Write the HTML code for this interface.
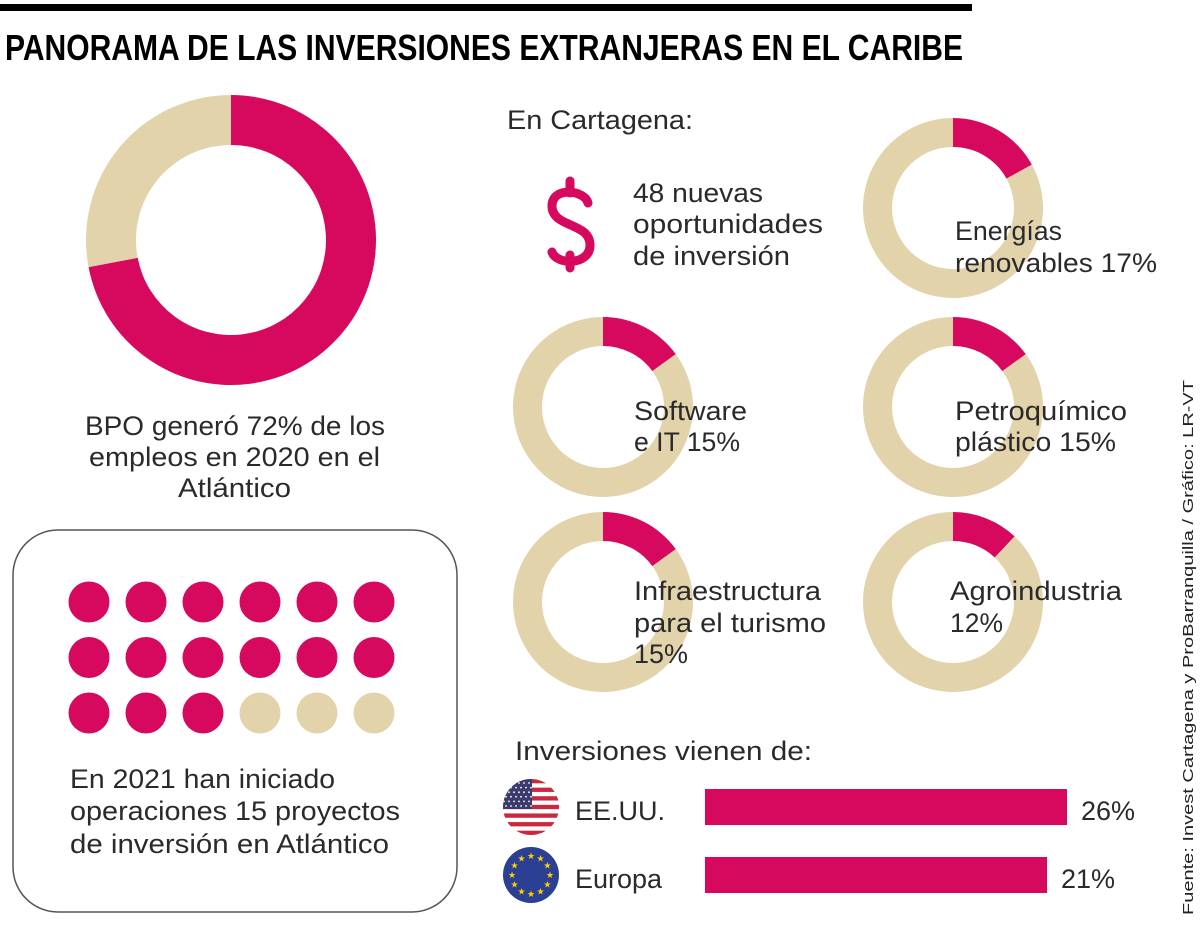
<!DOCTYPE html>
<html><head><meta charset="utf-8"><style>
body{margin:0;background:#fff;}
svg{display:block;font-family:"Liberation Sans",sans-serif;}
.t{font-size:27px;fill:#2a2a2a;}
</style></head><body>
<svg id="c" width="1200" height="927" viewBox="0 0 1200 927">
<rect x="0" y="4" width="972" height="7" fill="#000"/>
<text x="5" y="60" font-size="36" font-weight="bold" textLength="958" lengthAdjust="spacingAndGlyphs" fill="#000">PANORAMA DE LAS INVERSIONES EXTRANJERAS EN EL CARIBE</text>
<g id="bigDonut"></g>
<g>
<text class="t" x="85" y="435" textLength="300" lengthAdjust="spacingAndGlyphs">BPO generó 72% de los</text>
<text class="t" x="89" y="466" textLength="291" lengthAdjust="spacingAndGlyphs">empleos en 2020 en el</text>
<text class="t" x="178" y="497" textLength="113" lengthAdjust="spacingAndGlyphs">Atlántico</text>
</g>
<rect x="13" y="530" width="444" height="382" rx="45" fill="none" stroke="#555" stroke-width="1.5"/>
<g id="dots"></g>
<g>
<text class="t" x="70" y="788" textLength="265" lengthAdjust="spacingAndGlyphs">En 2021 han iniciado</text>
<text class="t" x="70" y="820" textLength="330" lengthAdjust="spacingAndGlyphs">operaciones 15 proyectos</text>
<text class="t" x="70" y="853" textLength="319" lengthAdjust="spacingAndGlyphs">de inversión en Atlántico</text>
</g>
<text class="t" x="507" y="129" textLength="186" lengthAdjust="spacingAndGlyphs" fill="#000">En Cartagena:</text>
<path d="M570 181 L570 193 M588 203 C585 190 552 186 552 206 C552 228 590 222 590 245 C590 266 556 265 552 252 M570 255 L570 268" fill="none" stroke="#d6095f" stroke-width="9" stroke-linecap="round"/>
<g>
<text class="t" x="633" y="202" textLength="130" lengthAdjust="spacingAndGlyphs">48 nuevas</text>
<text class="t" x="633" y="233" textLength="190" lengthAdjust="spacingAndGlyphs">oportunidades</text>
<text class="t" x="633" y="265" textLength="157" lengthAdjust="spacingAndGlyphs">de inversión</text>
</g>
<g id="smallDonuts"></g>
<g>
<text class="t" x="955" y="240" textLength="107" lengthAdjust="spacingAndGlyphs">Energías</text>
<text class="t" x="955" y="272" textLength="202" lengthAdjust="spacingAndGlyphs">renovables 17%</text>
<text class="t" x="634" y="420" textLength="113" lengthAdjust="spacingAndGlyphs">Software</text>
<text class="t" x="634" y="451" textLength="106" lengthAdjust="spacingAndGlyphs">e IT 15%</text>
<text class="t" x="955" y="420" textLength="172" lengthAdjust="spacingAndGlyphs">Petroquímico</text>
<text class="t" x="955" y="451" textLength="161" lengthAdjust="spacingAndGlyphs">plástico 15%</text>
<text class="t" x="634" y="600" textLength="187" lengthAdjust="spacingAndGlyphs">Infraestructura</text>
<text class="t" x="634" y="632" textLength="192" lengthAdjust="spacingAndGlyphs">para el turismo</text>
<text class="t" x="634" y="663" textLength="54" lengthAdjust="spacingAndGlyphs">15%</text>
<text class="t" x="950" y="600" textLength="172" lengthAdjust="spacingAndGlyphs">Agroindustria</text>
<text class="t" x="950" y="632" textLength="53" lengthAdjust="spacingAndGlyphs">12%</text>
</g>
<text class="t" x="515" y="760" textLength="297" lengthAdjust="spacingAndGlyphs" fill="#000">Inversiones vienen de:</text>
<defs>
<clipPath id="usc"><circle cx="531" cy="807" r="28"/></clipPath>
</defs>
<g clip-path="url(#usc)">
<rect x="500" y="779" width="62" height="56" fill="#fff"/>
<g id="stripes"></g>
<rect x="500" y="779" width="32" height="30" fill="#3c3b6e"/>
<g id="usstars"></g>
</g>
<g>
<circle cx="531" cy="875" r="28" fill="#2b3f93"/>
<g id="eustars"></g>
</g>
<g id="bars"></g>
<text x="1193" y="915" font-size="15" fill="#222" transform="rotate(-90 1193 915)" textLength="535" lengthAdjust="spacingAndGlyphs">Fuente: Invest Cartagena y ProBarranquilla / Gráfico: LR-VT</text>
</svg>
<script>
const PINK="#d6095f", BEIGE="#e3d3ab";
const bpoShare=[72];
const sectorNames=["Energías renovables","Software e IT","Petroquímico plástico","Infraestructura para el turismo","Agroindustria"];
const sectorShares=[17,15,15,15,12];
const projectsStarted=[15];
const projectsTotal=[18];
const originNames=["EE.UU.","Europa"];
const originShares=[26,21];
const originLabels=["26%","21%"];

const NS="http://www.w3.org/2000/svg";
function mk(tag,attrs,parent){const e=document.createElementNS(NS,tag);for(const k in attrs)e.setAttribute(k,attrs[k]);parent.appendChild(e);return e;}
function arc(cx,cy,r0,r1,a0,a1){
  const p=(r,a)=>[cx+r*Math.sin(a*2*Math.PI),cy-r*Math.cos(a*2*Math.PI)];
  const large=(a1-a0)>0.5?1:0;
  const [x0,y0]=p(r1,a0),[x1,y1]=p(r1,a1),[x2,y2]=p(r0,a1),[x3,y3]=p(r0,a0);
  return `M${x0} ${y0}A${r1} ${r1} 0 ${large} 1 ${x1} ${y1}L${x2} ${y2}A${r0} ${r0} 0 ${large} 0 ${x3} ${y3}Z`;
}
function donut(g,cx,cy,r0,r1,pct,name){
  const f=pct/100;
  const a=mk('path',{d:arc(cx,cy,r0,r1,0,f),fill:PINK},g);
  
  
  const b=mk('path',{d:arc(cx,cy,r0,r1,f,0.99999),fill:BEIGE},g);
  
  
}
donut(document.getElementById('bigDonut'),231,240,95,145,bpoShare[0],'bpo');
const centers=[[953,208],[603,407],[953,407],[603,602],[953,602]];
const sd=document.getElementById('smallDonuts');
sectorShares.forEach((v,i)=>{
  const g=mk('g',{},sd);
  
  
  donut(g,centers[i][0],centers[i][1],61,90,v,'sector-'+(i+1));
});
const dg=document.getElementById('dots');
for(let i=0;i<projectsTotal[0];i++){
  const c=mk('circle',{cx:89+(i%6)*57,cy:602+Math.floor(i/6)*55.5,r:20.5,fill:i<projectsStarted[0]?PINK:BEIGE},dg);
  
  
}
const st=document.getElementById('stripes');
for(let i=0;i<13;i+=2){mk('rect',{x:500,y:779+i*56/13,width:62,height:56/13,fill:"#c9283e"},st);}
const us=document.getElementById('usstars');
for(let r=0;r<6;r++)for(let c=0;c<6;c++)mk('circle',{cx:504+c*5+(r%2)*2,cy:783+r*4.6,r:0.9,fill:"#fff"},us);
const eu=document.getElementById('eustars');
for(let i=0;i<12;i++){const a=i/12*2*Math.PI;mk('text',{x:531+19*Math.sin(a),y:875-19*Math.cos(a)+3,'font-size':9,'text-anchor':'middle',fill:"#ffd200"},eu).textContent='★';}
const bx0=705;
function xs(v){return bx0+(v+64.5)*4;}
const rowY=[789,857];
const bg=document.getElementById('bars');
originShares.forEach((v,i)=>{
  const r=mk('rect',{x:bx0,y:rowY[i],width:xs(v)-bx0,height:36,fill:PINK},bg);
  
  
  const n=mk('text',{x:575,y:rowY[i]+31,class:'t','font-size':28},bg);
  n.textContent=originNames[i];
  
  
  const l=mk('text',{x:xs(v)+14,y:rowY[i]+31,class:'t','font-size':28},bg);
  l.textContent=originLabels[i];
  
  
});
</script>
</body></html>
